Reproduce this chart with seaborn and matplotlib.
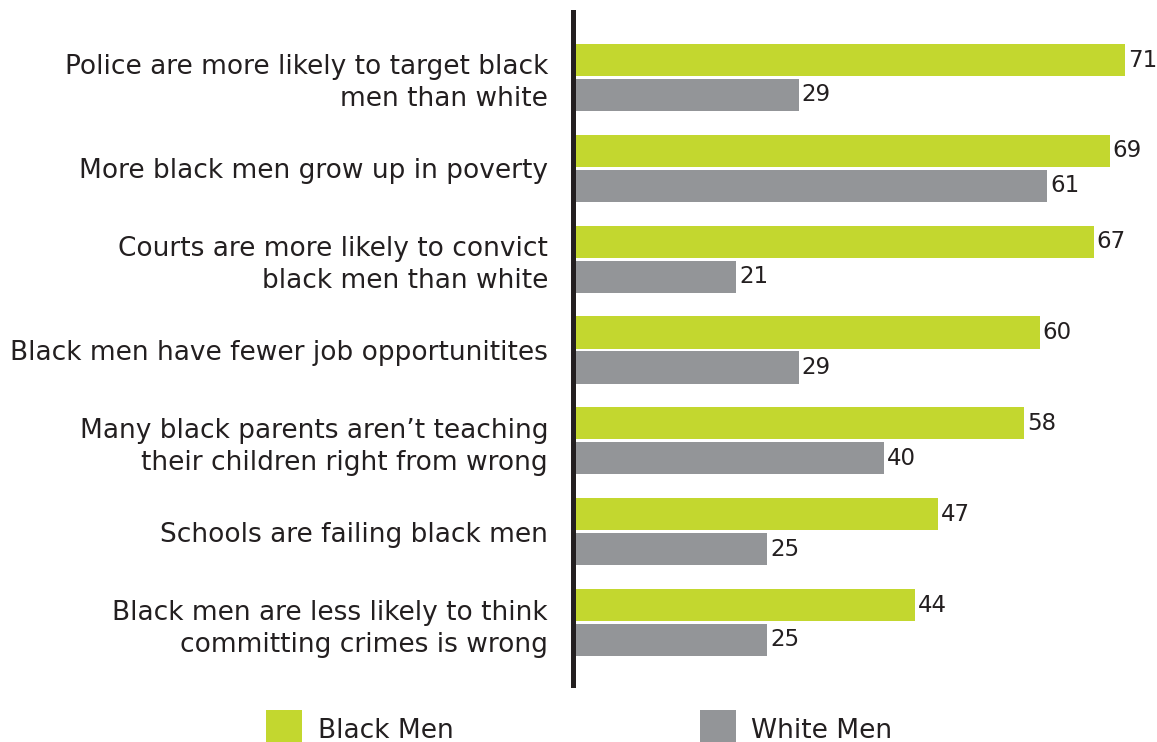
import matplotlib
matplotlib.use("Agg")
import matplotlib.pyplot as plt
from matplotlib.patches import Patch
import pandas as pd
import seaborn as sns

statements = [
    "Police are more likely to target black\nmen than white",
    "More black men grow up in poverty",
    "Courts are more likely to convict\nblack men than white",
    "Black men have fewer job opportunitites",
    "Many black parents aren\u2019t teaching\ntheir children right from wrong",
    "Schools are failing black men",
    "Black men are less likely to think\ncommitting crimes is wrong",
]
black_men = [71, 69, 67, 60, 58, 47, 44]
white_men = [29, 61, 21, 29, 40, 25, 25]
groups = ["Black Men", "White Men"]
colors = {"Black Men": "#C3D72F", "White Men": "#939598"}
text_color = "#231F20"

df = pd.DataFrame({
    "statement": statements * 2,
    "pct": black_men + white_men,
    "group": [groups[0]] * len(statements) + [groups[1]] * len(statements),
})

sns.set_theme(style="white")
plt.rcParams["font.family"] = ["DejaVu Sans"]
FS = 19
VALUE_FS = 16.5

fig = plt.figure(figsize=(11.57, 7.42), dpi=100)
ax = fig.add_axes([573 / 1157, 57 / 742, 584 / 1157, 673 / 742])

sns.barplot(data=df, y="statement", x="pct", hue="group", orient="h",
            palette=colors, width=0.77, gap=0.08, legend=False,
            saturation=1, linewidth=0, ax=ax)

for cont in ax.containers:
    ax.bar_label(cont, fmt="%d", padding=2, fontsize=VALUE_FS, color=text_color)

ax.set_xlim(0, 75.1)
ax.set_ylim(6.688, -0.721)
ax.set_xlabel("")
ax.set_ylabel("")
ax.set_xticks([])
ax.tick_params(axis="y", length=0, pad=18, labelsize=FS, labelcolor=text_color)
for lbl in ax.get_yticklabels():
    lbl.set_horizontalalignment("right")
    lbl.set_linespacing(1.3)

for side in ["top", "right", "bottom"]:
    ax.spines[side].set_visible(False)
ax.spines["left"].set_color(text_color)
ax.spines["left"].set_linewidth(3.6)

handles = [Patch(facecolor=colors[g], edgecolor="none") for g in groups]
fig.legend(handles, groups, loc="upper left",
           bbox_to_anchor=(266 / 1157, 1 - 710 / 742), ncol=2, frameon=False,
           fontsize=FS, labelcolor=text_color, borderpad=0, borderaxespad=0,
           handlelength=1.36, handleheight=1.9, handletextpad=0.6,
           columnspacing=9.33)

fig.savefig("out.png", dpi=100)
